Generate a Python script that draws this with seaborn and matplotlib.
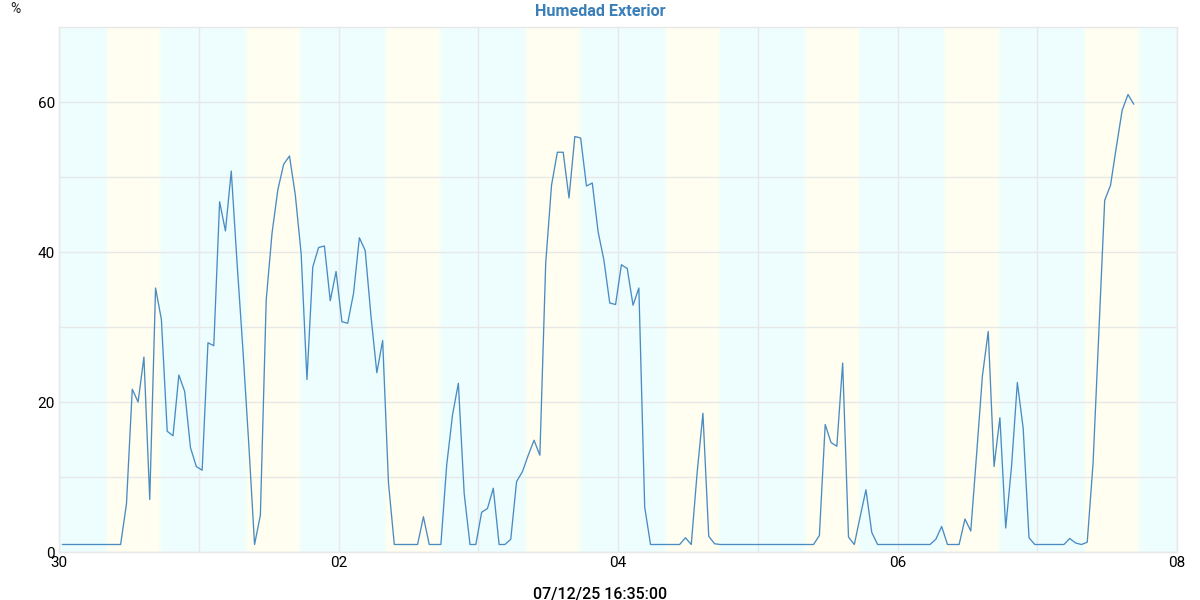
import pandas as pd
import matplotlib.pyplot as plt
import matplotlib.dates as mdates
import seaborn as sns

humidity = [
    1, 1, 1, 1, 1, 1, 1, 1, 1, 1, 1, 6.4, 21.7, 20, 26, 7, 35.2, 31, 16.1, 15.5,
    23.6, 21.4, 13.9, 11.4, 10.9, 27.9, 27.5, 46.7, 42.8, 50.8, 38.5, 27, 14.5, 1, 4.9, 33.6,
    42.5, 48.3, 51.7, 52.8, 47.6, 39.8, 23, 38, 40.6, 40.8, 33.5, 37.4, 30.7, 30.5, 34.5, 41.9,
    40.2, 31.4, 23.9, 28.2, 9.2, 1, 1, 1, 1, 1, 4.7, 1, 1, 1, 11.6, 18.3, 22.5, 7.8,
    1, 1, 5.3, 5.8, 8.5, 1, 1, 1.7, 9.4, 10.7, 12.9, 14.9, 12.9, 38.5, 48.9, 53.3, 53.3, 47.2,
    55.4, 55.2, 48.8, 49.2, 42.7, 38.9, 33.2, 33, 38.3, 37.8, 32.9, 35.2, 6, 1, 1, 1, 1, 1,
    1, 1.9, 1, 10.5, 18.5, 2.1, 1.1, 1, 1, 1, 1, 1, 1, 1, 1, 1, 1, 1,
    1, 1, 1, 1, 1, 1, 2.2, 17, 14.6, 14.1, 25.2, 2, 1, 4.7, 8.3, 2.6, 1, 1, 1, 1,
    1, 1, 1, 1, 1, 1, 1.7, 3.4, 1, 1, 1, 4.4, 2.8, 13, 23.5, 29.4, 11.4, 17.9, 3.2, 11.4,
    22.6, 16.5, 1.9, 1, 1, 1, 1, 1, 1, 1.8, 1.2, 1, 1.3, 11.8, 29.5, 46.9, 48.9, 54, 58.9, 61,
    59.7,
]
day_starts = ["2025-11-30", "2025-12-01", "2025-12-02", "2025-12-03",
              "2025-12-04", "2025-12-05", "2025-12-06", "2025-12-07"]

df = pd.DataFrame({
    "time": pd.date_range("2025-11-30 00:35", periods=len(humidity), freq="h"),
    "humidity": humidity,
})

sns.set_theme(style="white")
plt.rcParams["font.family"] = ["Roboto", "DejaVu Sans"]

fig = plt.figure(figsize=(12, 6), dpi=100)
ax = fig.add_axes([59 / 1200, 48 / 600, 1118 / 1200, 525 / 600])
ax.set_facecolor("#eefeff")

# daytime bands, with a soft edge
for day in day_starts:
    start = pd.Timestamp(day)
    ax.axvspan(start + pd.Timedelta(hours=8.0), start + pd.Timedelta(hours=17.6),
               color="#f6fff4", lw=0, zorder=0.1)
    ax.axvspan(start + pd.Timedelta(hours=8.4), start + pd.Timedelta(hours=17.2),
               color="#fffef0", lw=0, zorder=0.2)

sns.lineplot(data=df, x="time", y="humidity", ax=ax, color="#4a8cc2", linewidth=0.95)

ax.set_xlim(pd.Timestamp("2025-11-30"), pd.Timestamp("2025-12-08"))
ax.set_ylim(0, 70)
ax.set_xticks(pd.date_range("2025-11-30", "2025-12-08", freq="2D"))
ax.xaxis.set_major_formatter(mdates.DateFormatter("%d"))
ax.xaxis.set_minor_locator(mdates.DayLocator())
ax.set_yticks([0, 20, 40, 60])
ax.set_yticks([10, 30, 50], minor=True)
ax.grid(True, which="both", color="#e8e8e8", linewidth=1)
ax.set_axisbelow(True)
ax.tick_params(which="both", length=0, labelsize=11, labelcolor="black", pad=3)
ax.set_xlabel("")
ax.set_ylabel("")
for side in ax.spines.values():
    side.set_color("#e8e8e8")
    side.set_linewidth(1)

fig.text(600 / 1200, 1 - 11 / 600, "Humedad Exterior", ha="center", va="center",
         fontsize=11.6, fontweight="bold", color="#3a7fb8")
fig.text(15 / 1200, 1 - 9 / 600, "%", ha="center", va="center", fontsize=10, color="#222222")
fig.text(600 / 1200, 1 - 594 / 600, "07/12/25 16:35:00", ha="center", va="center",
         fontsize=11.5, color="black", fontweight="medium")

fig.savefig("out.png", dpi=100)
